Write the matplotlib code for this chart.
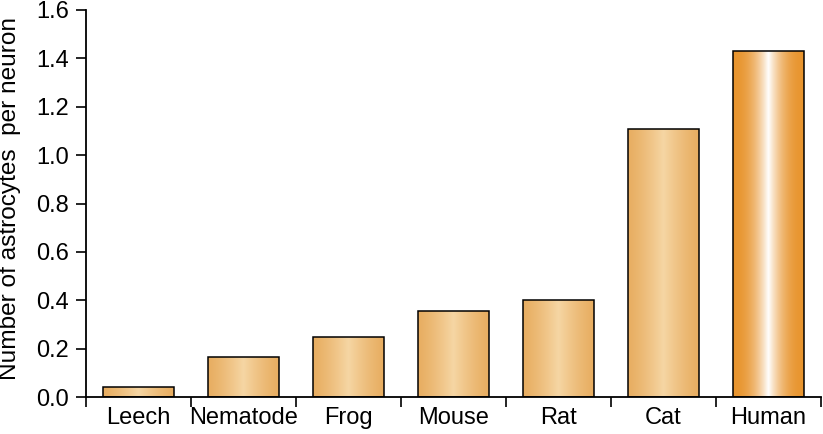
import numpy as np
import matplotlib
matplotlib.use("Agg")
import matplotlib.pyplot as plt
from matplotlib.colors import to_rgb

categories = ["Leech", "Nematode", "Frog", "Mouse", "Rat", "Cat", "Human"]
values = [0.04, 0.165, 0.25, 0.355, 0.40, 1.11, 1.43]
yticks = [0.0, 0.2, 0.4, 0.6, 0.8, 1.0, 1.2, 1.4, 1.6]
ylabel = "Number of astrocytes  per neuron"

plt.rcParams['font.family'] = ['Liberation Sans', 'DejaVu Sans']

fig = plt.figure(figsize=(8.23, 4.34), dpi=100)
ax = fig.add_axes([86/823, 1-397/434, (821-86)/823, (397-10)/434])

x = np.arange(len(categories))
bars = ax.bar(x, values, width=0.667, color='none', edgecolor='black', linewidth=1.1, zorder=3)

def grad_img(edge, center, power):
    t = np.linspace(0, 1, 200)
    m = (1 - np.abs(2*t - 1)) ** power
    e = np.array(to_rgb(edge)); c = np.array(to_rgb(center))
    cols = e[None, :] * (1 - m[:, None]) + c[None, :] * m[:, None]
    return cols[None, :, :]

for i, b in enumerate(bars):
    if categories[i] == "Human":
        img = grad_img('#E8952F', '#FFFFFF', 2.2)
    else:
        img = grad_img('#E8AE62', '#F6D6A4', 1.3)
    x0, w, h = b.get_x(), b.get_width(), b.get_height()
    im = ax.imshow(img, extent=[x0, x0 + w, 0, h], aspect='auto', zorder=2,
                   interpolation='bilinear')
    im.set_clip_path(b)

fs = 17
ax.set_xlim(-0.5, len(categories) - 0.5)
ax.set_ylim(0, 1.6)
ax.set_yticks(yticks)
ax.set_yticklabels([f"{v:.1f}" for v in yticks], fontsize=fs)
ax.set_xticks(x)
ax.set_xticklabels(categories, fontsize=fs)
ax.set_xticks(np.arange(-0.5, len(categories)), minor=True)
ax.tick_params(axis='x', which='major', length=0, pad=7)
ax.tick_params(axis='x', which='minor', length=7, width=1.2, direction='out')
ax.tick_params(axis='y', length=7, width=1.2, direction='out', pad=5)
for s in ['top', 'right']:
    ax.spines[s].set_visible(False)
for s in ['left', 'bottom']:
    ax.spines[s].set_linewidth(1.3)
ax.set_ylabel(ylabel, fontsize=17.6)
ax.yaxis.set_label_coords(-0.088, 0.513)

fig.savefig("out.png", dpi=100)
